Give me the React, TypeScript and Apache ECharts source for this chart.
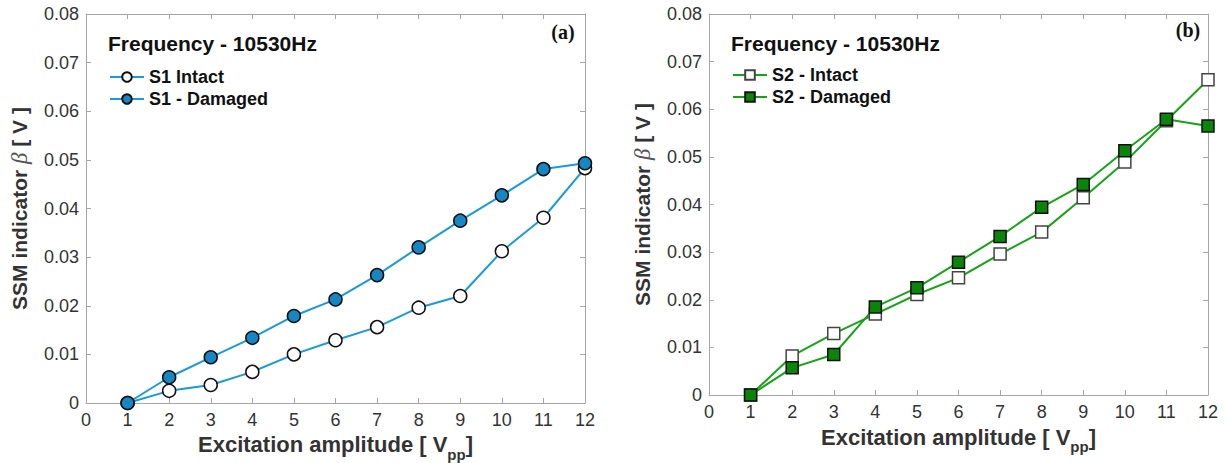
import React, { useEffect, useRef } from "react";
import * as echarts from "echarts";

const amplitudes = [1, 2, 3, 4, 5, 6, 7, 8, 9, 10, 11, 12];
const s1Intact = [0, 0.0025, 0.0037, 0.0064, 0.01, 0.0129, 0.0156, 0.0196, 0.022, 0.0312, 0.0381, 0.0483];
const s1Damaged = [0, 0.0053, 0.0094, 0.0134, 0.0179, 0.0213, 0.0263, 0.032, 0.0375, 0.0427, 0.0481, 0.0493];
const s2Intact = [0, 0.0082, 0.0129, 0.017, 0.0211, 0.0246, 0.0296, 0.0342, 0.0414, 0.0489, 0.0576, 0.0662];
const s2Damaged = [0, 0.0057, 0.0085, 0.0185, 0.0225, 0.0279, 0.0333, 0.0394, 0.0442, 0.0513, 0.0579, 0.0565];
const panelTags = ["(a)", "(b)"];
const headingText = "Frequency - 10530Hz";
const legendNames = [
  ["S1 Intact", "S1 - Damaged"],
  ["S2 - Intact", "S2 - Damaged"],
];

const SANS = "'Liberation Sans', Arial, Helvetica, sans-serif";
const SERIF = "'Liberation Serif', 'Times New Roman', serif";
const AXIS_GRAY = "#a6a6a6";
const LABEL = "#333";

const grids = [
  { left: 86, top: 14, width: 499, height: 389 },
  { left: 709, top: 14, width: 499, height: 381 },
];
const legendTops = [68, 66];
const tagY = [32, 30];

function pairs(ys: number[]) {
  return amplitudes.map((x, i) => [x, ys[i]]);
}

export default function App() {
  const ref = useRef<HTMLDivElement>(null);
  useEffect(() => {
    if (!ref.current) return;
    const chart = echarts.init(ref.current, null, { renderer: "svg" });

    const xAxes: any[] = [];
    const yAxes: any[] = [];
    grids.forEach((g, gi) => {
      xAxes.push({
        type: "value",
        gridIndex: gi,
        min: 0,
        max: 12,
        interval: 1,
        position: "bottom",
        name: "{t|Excitation amplitude [ V}{s|pp}{t|]}",
        nameLocation: "middle",
        nameGap: gi === 0 ? 28 : 31,
        nameTextStyle: {
          rich: {
            t: { fontFamily: SANS, fontSize: 22, fontWeight: "bold", color: LABEL, lineHeight: 26, verticalAlign: "top" },
            s: { fontFamily: SANS, fontSize: 15, fontWeight: "bold", color: LABEL, lineHeight: 13, padding: [13, 0, 0, 0], verticalAlign: "top" },
          },
        },
        axisLine: { show: true, onZero: false, lineStyle: { color: AXIS_GRAY, width: 1 } },
        axisTick: { show: true, inside: true, length: 5, lineStyle: { color: AXIS_GRAY } },
        axisLabel: { fontFamily: SANS, fontSize: 18, color: LABEL, margin: 8 },
        splitLine: { show: false },
      });
      xAxes.push({
        type: "value",
        gridIndex: gi,
        min: 0,
        max: 12,
        interval: 1,
        position: "top",
        axisLine: { show: true, onZero: false, lineStyle: { color: AXIS_GRAY, width: 1 } },
        axisTick: { show: true, inside: true, length: 5, lineStyle: { color: AXIS_GRAY } },
        axisLabel: { show: false },
        splitLine: { show: false },
      });
      yAxes.push({
        type: "value",
        gridIndex: gi,
        min: 0,
        max: 0.08,
        interval: 0.01,
        position: "left",
        name: "{t|SSM indicator }{b|β}{t| [ V ]}",
        nameLocation: "middle",
        nameRotate: 90,
        nameGap: 55,
        nameTextStyle: {
          rich: {
            t: { fontFamily: SANS, fontSize: 21, fontWeight: "bold", color: LABEL },
            b: { fontFamily: SERIF, fontSize: 23, fontStyle: "italic", color: "#555" },
          },
        },
        axisLine: { show: true, onZero: false, lineStyle: { color: AXIS_GRAY, width: 1 } },
        axisTick: { show: true, inside: true, length: 5, lineStyle: { color: AXIS_GRAY } },
        axisLabel: {
          fontFamily: SANS,
          fontSize: 18,
          color: LABEL,
          margin: 7,
          formatter: (v: number) => (v === 0 ? "0" : v.toFixed(2)),
        },
        splitLine: { show: false },
      });
      yAxes.push({
        type: "value",
        gridIndex: gi,
        min: 0,
        max: 0.08,
        interval: 0.01,
        position: "right",
        axisLine: { show: true, onZero: false, lineStyle: { color: AXIS_GRAY, width: 1 } },
        axisTick: { show: true, inside: true, length: 5, lineStyle: { color: AXIS_GRAY } },
        axisLabel: { show: false },
        splitLine: { show: false },
      });
    });

    const blueLine = "#1a9ad6";
    const blueFill = "#1787c4";
    const greenLine = "#17a317";
    const greenFill = "#0a850a";

    const series: any[] = [
      {
        name: legendNames[0][0],
        type: "line",
        xAxisIndex: 0,
        yAxisIndex: 0,
        data: pairs(s1Intact),
        symbol: "circle",
        symbolSize: 13,
        lineStyle: { color: blueLine, width: 2 },
        itemStyle: { color: "#ffffff", borderColor: "#111", borderWidth: 1.5 },
      },
      {
        name: legendNames[0][1],
        type: "line",
        xAxisIndex: 0,
        yAxisIndex: 0,
        data: pairs(s1Damaged),
        symbol: "circle",
        symbolSize: 13,
        lineStyle: { color: blueLine, width: 2 },
        itemStyle: { color: blueFill, borderColor: "#111", borderWidth: 1.5 },
      },
      {
        name: legendNames[1][0],
        type: "line",
        xAxisIndex: 2,
        yAxisIndex: 2,
        data: pairs(s2Intact),
        symbol: "rect",
        symbolSize: 12,
        lineStyle: { color: greenLine, width: 2 },
        itemStyle: { color: "#ffffff", borderColor: "#444", borderWidth: 1.5 },
      },
      {
        name: legendNames[1][1],
        type: "line",
        xAxisIndex: 2,
        yAxisIndex: 2,
        data: pairs(s2Damaged),
        symbol: "rect",
        symbolSize: 12,
        lineStyle: { color: greenLine, width: 2 },
        itemStyle: { color: greenFill, borderColor: "#111", borderWidth: 1.5 },
      },
    ];

    const legends = grids.map((g, gi) => ({
      orient: "vertical",
      left: g.left + 23,
      top: legendTops[gi],
      padding: 0,
      itemWidth: 34,
      itemHeight: 12,
      itemGap: 4,
      data: legendNames[gi],
      selectedMode: false,
      textStyle: { fontFamily: SANS, fontSize: 18, fontWeight: "bold", color: "#111", padding: [0, 0, 0, 0] },
    }));

    const graphics: any[] = [];
    grids.forEach((g, gi) => {
      graphics.push({
        type: "text",
        left: g.left + 22,
        top: 33,
        style: { text: headingText, font: `bold 21px ${SANS}`, fill: "#111" },
      });
      graphics.push({
        type: "text",
        x: g.left + g.width - (gi === 0 ? 22 : 20),
        y: tagY[gi],
        style: { text: panelTags[gi], font: `bold 20px ${SERIF}`, fill: "#111", align: "center", verticalAlign: "middle" },
      });
    });

    chart.setOption({
      animation: false,
      backgroundColor: "#ffffff",
      grid: grids.map((g) => ({ ...g, containLabel: false, outerBoundsMode: "none" })),
      xAxis: xAxes,
      yAxis: yAxes,
      legend: legends,
      series,
      graphic: graphics,
    });
    return () => chart.dispose();
  }, []);
  return <div ref={ref} style={{ position: "fixed", left: 0, top: 0, width: 1230, height: 463 }} />;
}
